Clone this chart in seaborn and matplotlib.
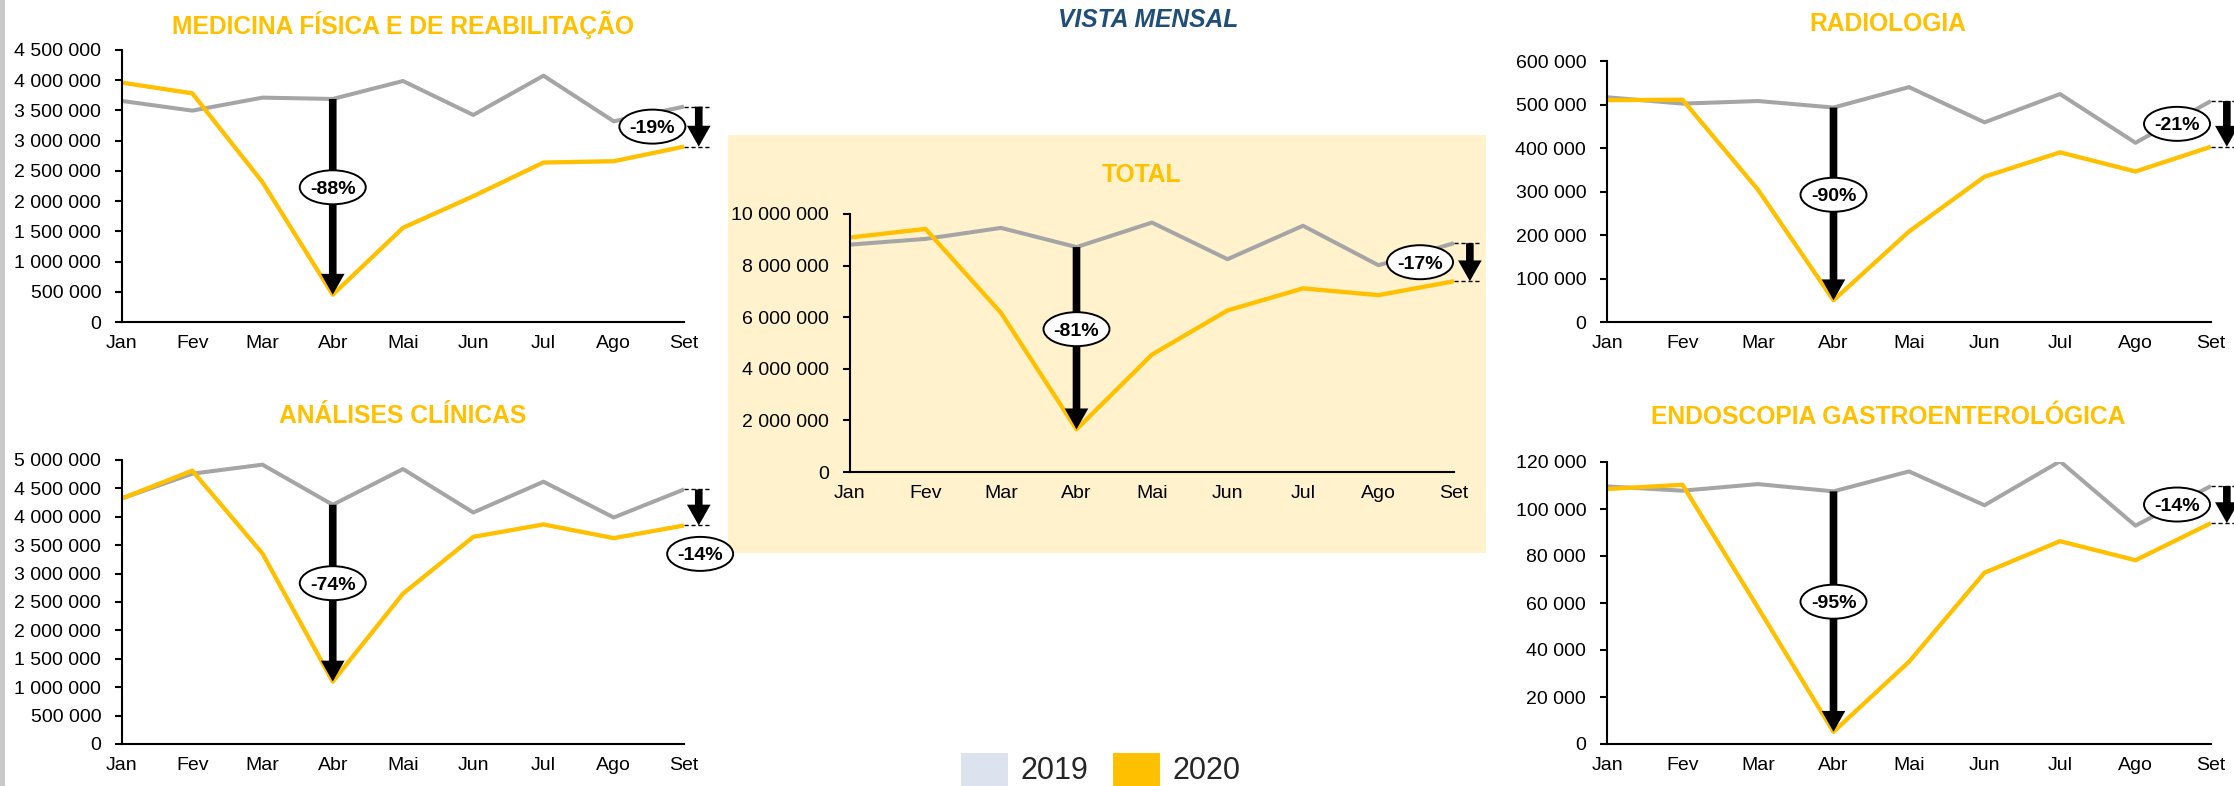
import numpy as np
import pandas as pd
import matplotlib
matplotlib.use("Agg")
import matplotlib.pyplot as plt
import seaborn as sns
from matplotlib.patches import Rectangle, FancyArrowPatch, Ellipse
from matplotlib.transforms import IdentityTransform, ScaledTranslation
from matplotlib.ticker import FuncFormatter, MultipleLocator

# dados (leitura aproximada do gráfico)
months = ["Jan", "Fev", "Mar", "Abr", "Mai", "Jun", "Jul", "Ago", "Set"]

mfr_2019 = [3657000, 3497000, 3712000, 3690000, 3987000, 3425000, 4075000, 3320000, 3563000]
mfr_2020 = [3960000, 3783000, 2313000, 452000, 1558000, 2081000, 2638000, 2660000, 2902000]

ac_2019 = [4324000, 4759000, 4918000, 4212000, 4841000, 4076000, 4618000, 3988000, 4482000]
ac_2020 = [4324000, 4812000, 3353000, 1100000, 2647000, 3647000, 3865000, 3624000, 3847000]

total_2019 = [8814000, 9034000, 9462000, 8717000, 9669000, 8248000, 9545000, 8014000, 8869000]
total_2020 = [9090000, 9421000, 6166000, 1655000, 4552000, 6262000, 7117000, 6855000, 7393000]

rad_2019 = [516600, 502000, 508000, 493000, 540000, 459000, 524000, 412000, 508000]
rad_2020 = [510000, 511000, 304000, 50000, 208000, 334000, 390000, 346000, 403000]

end_2019 = [109600, 107800, 110600, 107500, 116000, 101600, 120300, 92900, 109800]
end_2020 = [108500, 110300, 58000, 5200, 35000, 72900, 86300, 78200, 94000]

years = ["2019", "2020"]

GRAY = "#A5A5A5"
GOLD = "#FFC000"
LEGEND_2019 = "#DDE3EE"
PANEL_BG = "#FFF2CC"
NAVY = "#1F4E79"

W, H = 2234, 786

sns.set_theme(style="white")
plt.rcParams["font.family"] = ["Liberation Sans", "DejaVu Sans"]
plt.rcParams["text.color"] = "black"

fig = plt.figure(figsize=(W / 100, H / 100), dpi=100)


def px_axes(left, right, top, bottom):
    return fig.add_axes([left / W, 1 - bottom / H, (right - left) / W, (bottom - top) / H])


def fig_text(x, y, s, **kw):
    fig.text(x / W, 1 - y / H, s, **kw)


def pct(a, b):
    return f"{(b / a - 1) * 100:.0f}%"


def drop_arrow(ax, x, y_top, y_bot):
    arr = FancyArrowPatch((x, y_top), (x, y_bot),
                          arrowstyle="simple,head_length=1.5,head_width=1.7,tail_width=0.55",
                          mutation_scale=10, color="black", lw=0,
                          shrinkA=0, shrinkB=0, clip_on=False, zorder=4)
    ax.add_patch(arr)


def ellipse_label(ax, x, y, s):
    # elipse de tamanho fixo em pixels, centrada no ponto de dados
    tr = IdentityTransform() + ScaledTranslation(x, y, ax.transData)
    ax.add_patch(Ellipse((0, 0), 66, 34, transform=tr, fc="white", ec="black",
                         lw=1.4, zorder=5, clip_on=False))
    ax.text(x, y, s, ha="center", va="center_baseline", fontsize=14, fontweight="bold",
            zorder=6, clip_on=False)


def draw_panel(ax, v2019, v2020, ymax, step, set_below=False):
    df = pd.DataFrame({
        "x": list(range(len(months))) * 2,
        "valor": v2019 + v2020,
        "ano": [years[0]] * len(months) + [years[1]] * len(months),
    })
    sns.lineplot(data=df, x="x", y="valor", hue="ano", palette={"2019": GRAY, "2020": GOLD},
                 ax=ax, legend=False, linewidth=2.9, sort=False)
    ax.lines[1].set_linewidth(3.1)
    for ln in ax.lines:
        ln.set_solid_capstyle("butt")

    ax.set_facecolor("none")
    ax.set_xlim(0, len(months) - 1)
    ax.set_ylim(0, ymax)
    ax.set_xticks(range(len(months)))
    ax.set_xticklabels(months)
    ax.yaxis.set_major_locator(MultipleLocator(step))
    ax.yaxis.set_major_formatter(FuncFormatter(lambda v, p: f"{int(round(v)):,}".replace(",", " ")))
    ax.set_xlabel("")
    ax.set_ylabel("")
    for side in ["top", "right"]:
        ax.spines[side].set_visible(False)
    for side in ["left", "bottom"]:
        ax.spines[side].set_color("black")
        ax.spines[side].set_linewidth(1.5)
    ax.tick_params(axis="y", left=True, length=5, width=1.5, pad=10, labelsize=14,
                   colors="black", direction="out")
    ax.tick_params(axis="x", bottom=False, length=0, pad=9, labelsize=14, colors="black")

    # queda em abril
    i = months.index("Abr")
    drop_arrow(ax, i, v2019[i], v2020[i])
    ellipse_label(ax, i, (v2019[i] + v2020[i]) / 2 + 0.035 * ymax, pct(v2019[i], v2020[i]))

    # variação em setembro
    j = months.index("Set")
    xa = j + 0.21
    for v in (v2019[j], v2020[j]):
        ax.plot([j, j + 0.36], [v, v], color="black", lw=1, ls=(0, (3, 2)), clip_on=False, zorder=3)
    drop_arrow(ax, xa, v2019[j], v2020[j])
    if set_below:
        ellipse_label(ax, j + 0.23, v2020[j] - 0.1 * ymax, pct(v2019[j], v2020[j]))
    else:
        ellipse_label(ax, j - 0.45, (v2019[j] + v2020[j]) / 2, pct(v2019[j], v2020[j]))


# fundos
fig.add_artist(Rectangle((0, 0), 5 / W, 1, transform=fig.transFigure,
                         fc="#C9C9C9", ec="none", zorder=-2))
fig.add_artist(Rectangle((728 / W, 1 - 553 / H), (1486 - 728) / W, (553 - 135) / H,
                         transform=fig.transFigure, fc=PANEL_BG, ec="none", zorder=-1))

title_kw = dict(ha="center", va="center", fontsize=17.7, fontweight="bold", color=GOLD)

ax1 = px_axes(122, 684, 50, 322)
draw_panel(ax1, mfr_2019, mfr_2020, 4500000, 500000)
fig_text(403, 25, "MEDICINA FÍSICA E DE REABILITAÇÃO", **title_kw)

ax2 = px_axes(122, 684, 460, 744)
draw_panel(ax2, ac_2019, ac_2020, 5000000, 500000, set_below=True)
fig_text(403, 416, "ANÁLISES CLÍNICAS", **title_kw)

ax3 = px_axes(850, 1454, 214, 472)
draw_panel(ax3, total_2019, total_2020, 10000000, 2000000)
fig_text(1142, 175, "TOTAL", **title_kw)

ax4 = px_axes(1607, 2211, 61, 322)
draw_panel(ax4, rad_2019, rad_2020, 600000, 100000)
fig_text(1888, 24, "RADIOLOGIA", **title_kw)

ax5 = px_axes(1607, 2211, 462, 744)
draw_panel(ax5, end_2019, end_2020, 120000, 20000)
fig_text(1888, 417, "ENDOSCOPIA GASTROENTEROLÓGICA", **title_kw)

fig_text(1148, 20, "VISTA MENSAL", ha="center", va="center", fontsize=17.7,
         fontweight="bold", fontstyle="italic", color=NAVY)

# legenda
for x0, col, lab in [(961, LEGEND_2019, years[0]), (1113, GOLD, years[1])]:
    fig.add_artist(Rectangle((x0 / W, 0), 47 / W, (H - 753) / H, transform=fig.transFigure,
                             fc=col, ec="none"))
    fig_text(x0 + 60, 779, lab, ha="left", va="baseline", fontsize=22, color="#262626")

fig.savefig("out.png", dpi=100)
